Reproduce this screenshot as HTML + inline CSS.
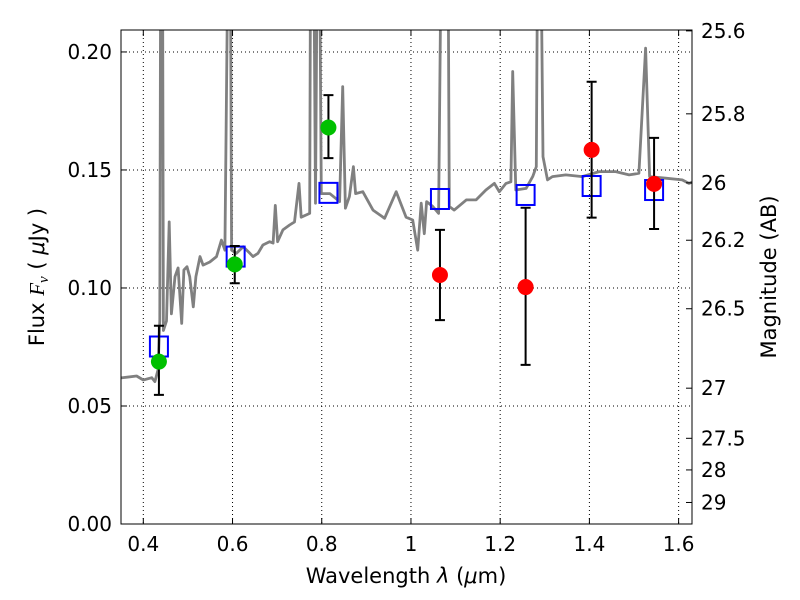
<!DOCTYPE html>
<html><head><meta charset="utf-8"><style>body{margin:0;background:#fff}svg{display:block;font-family:"DejaVu Sans","Liberation Sans",sans-serif}</style></head>
<body>
<svg id="chart" width="800" height="600" xmlns="http://www.w3.org/2000/svg">
<defs><clipPath id="clip"><rect x="121" y="30" width="571" height="494"/></clipPath></defs>
<g id="grid"></g>
<g id="spec" clip-path="url(#clip)"></g>
<g id="marks"></g>
<rect x="121" y="30" width="571" height="494" fill="none" stroke="#000" stroke-width="1"/>
<g id="axes"></g>
<text x="406" y="583" font-size="21" text-anchor="middle">Wavelength  <tspan font-style="italic">λ</tspan> (<tspan font-style="italic">μ</tspan>m)</text>
<text transform="translate(44,277) rotate(-90)" font-size="21" text-anchor="middle">Flux  <tspan font-style="italic" font-family="Liberation Serif,serif">F<tspan font-size="15" dy="4">ν</tspan></tspan><tspan dy="-4">  ( </tspan><tspan font-style="italic">μ</tspan>Jy )</text>
<text transform="translate(776,277) rotate(-90)" font-size="21" text-anchor="middle">Magnitude (AB)</text>
</svg>
<script>
const xTicks=[0.4,0.6,0.8,1.0,1.2,1.4,1.6];
const xTickLabels=["0.4","0.6","0.8","1","1.2","1.4","1.6"];
const yTicks=[0,0.05,0.10,0.15,0.20];
const yTickLabels=["0.00","0.05","0.10","0.15","0.20"];
const magTicks=[25.6,25.8,26,26.2,26.5,27,27.5,28,29];
const magTickLabels=["25.6","25.8","26","26.2","26.5","27","27.5","28","29"];
const specWave=[0.35,0.385,0.400,0.419,0.426,0.433,0.437,0.439,0.443,0.445,0.452,0.458,0.463,0.471,0.478,0.486,0.491,0.498,0.504,0.512,0.518,0.527,0.534,0.549,0.564,0.575,0.583,0.590,0.595,0.598,0.609,0.624,0.639,0.646,0.657,0.668,0.683,0.691,0.696,0.701,0.713,0.728,0.739,0.749,0.754,0.773,0.775,0.782,0.786,0.790,0.795,0.799,0.818,0.840,0.847,0.853,0.862,0.871,0.876,0.892,0.915,0.941,0.967,0.989,1.004,1.015,1.023,1.030,1.035,1.049,1.062,1.068,1.083,1.086,1.097,1.124,1.146,1.168,1.187,1.198,1.213,1.224,1.228,1.235,1.258,1.273,1.281,1.284,1.291,1.296,1.306,1.317,1.347,1.384,1.422,1.459,1.489,1.511,1.526,1.535,1.571,1.608,1.623,1.63];
const specFlux=[0.0619,0.0627,0.061,0.062,0.0603,0.0653,0.0864,0.25,0.25,0.082,0.086,0.128,0.089,0.1048,0.1085,0.085,0.1076,0.109,0.1048,0.092,0.1048,0.1133,0.1097,0.111,0.1133,0.1203,0.116,0.25,0.25,0.116,0.1147,0.1175,0.1147,0.1133,0.1147,0.1182,0.1196,0.119,0.135,0.1196,0.1246,0.1267,0.128,0.1443,0.130,0.1316,0.25,0.25,0.1359,0.25,0.25,0.140,0.140,0.1366,0.1853,0.1338,0.1387,0.1514,0.140,0.1408,0.133,0.1295,0.1408,0.130,0.1288,0.116,0.1359,0.123,0.1366,0.1345,0.1316,0.25,0.25,0.1345,0.133,0.1373,0.1373,0.1415,0.1443,0.1408,0.1443,0.145,0.1917,0.1415,0.1422,0.1472,0.1514,0.25,0.25,0.1556,0.1458,0.1472,0.1479,0.1472,0.1493,0.1493,0.1479,0.1486,0.2016,0.1472,0.1465,0.1458,0.1443,0.1448];
const obsWave=[0.435,0.605,0.815,1.065,1.257,1.405,1.545];
const obsFlux=[0.0688,0.110,0.168,0.1055,0.1004,0.1585,0.1441];
const obsErrHi=[0.084,0.1178,0.1817,0.1246,0.134,0.1874,0.1636];
const obsErrLo=[0.0547,0.102,0.155,0.0864,0.0674,0.1298,0.125];
const obsColor=["#00c000","#00c000","#00c000","#ff0000","#ff0000","#ff0000","#ff0000"];
const modelWave=[0.435,0.607,0.815,1.065,1.257,1.405,1.545];
const modelFlux=[0.0752,0.1133,0.1403,0.1377,0.1394,0.1432,0.1415];

const NS="http://www.w3.org/2000/svg";
const X0=121,X1=692,Y0=524,Y1=30,xmin=0.35,xmax=1.63,ymin=0,ymax=0.2093;
const sx=v=>X0+(v-xmin)/(xmax-xmin)*(X1-X0);
const sy=v=>Y0-(v-ymin)/(ymax-ymin)*(Y0-Y1);
const magToFlux=m=>Math.pow(10,(23.9-m)/2.5);
function mk(tag,attrs,parent){const e=document.createElementNS(NS,tag);for(const k in attrs)e.setAttribute(k,attrs[k]);parent.appendChild(e);return e;}
const grid=document.getElementById('grid'),axes=document.getElementById('axes'),spec=document.getElementById('spec'),marks=document.getElementById('marks');
xTicks.forEach((t,i)=>{const x=sx(t);
 let g=mk('line',{x1:x,x2:x,y1:Y1,y2:Y0,stroke:'#000','stroke-dasharray':'1,3','stroke-width':1},grid);
 
 
 mk('line',{x1:x,x2:x,y1:Y0,y2:Y0-6,stroke:'#000'},axes);
 mk('line',{x1:x,x2:x,y1:Y1,y2:Y1+6,stroke:'#000'},axes);
 let tx=mk('text',{x:x,y:Y0+27,'font-size':20,'text-anchor':'middle'},axes);tx.textContent=xTickLabels[i];
 
 
});
yTicks.forEach((t,i)=>{const y=sy(t);
 let g=mk('line',{x1:X0,x2:X1,y1:y,y2:y,stroke:'#000','stroke-dasharray':'1,3','stroke-width':1},grid);
 
 
 mk('line',{x1:X0,x2:X0+6,y1:y,y2:y,stroke:'#000'},axes);
 let tx=mk('text',{x:X0-9,y:y+7,'font-size':20,'text-anchor':'end'},axes);tx.textContent=yTickLabels[i];
 
 
});
magTicks.forEach((m,i)=>{const y=sy(magToFlux(m));
 mk('line',{x1:X1,x2:X1-6,y1:y,y2:y,stroke:'#000'},axes);
 let tx=mk('text',{x:X1+9,y:y+7,'font-size':20},axes);tx.textContent=magTickLabels[i];
 
 
});
let d=specWave.map((w,i)=>(i?'L':'M')+sx(w).toFixed(1)+','+sy(specFlux[i]).toFixed(1)).join('');
let p=mk('path',{d:d,fill:'none',stroke:'#808080','stroke-width':2.8,'stroke-linejoin':'round'},spec);


modelWave.forEach((w,i)=>{const x=sx(w),y=sy(modelFlux[i]);
 let r=mk('rect',{x:x-9,y:y-10,width:18,height:20,fill:'none',stroke:'#0000ff','stroke-width':2},marks);
 
 
});
obsWave.forEach((w,i)=>{const x=sx(w),yh=sy(obsErrHi[i]),yl=sy(obsErrLo[i]);
 let e=mk('path',{d:`M${x},${yh}L${x},${yl}M${x-5},${yh}L${x+5},${yh}M${x-5},${yl}L${x+5},${yl}`,stroke:'#000','stroke-width':2,fill:'none'},marks);
 
 
 let c=mk('circle',{cx:x,cy:sy(obsFlux[i]),r:8,fill:obsColor[i]},marks);
 
 
});
</script>
</body></html>
